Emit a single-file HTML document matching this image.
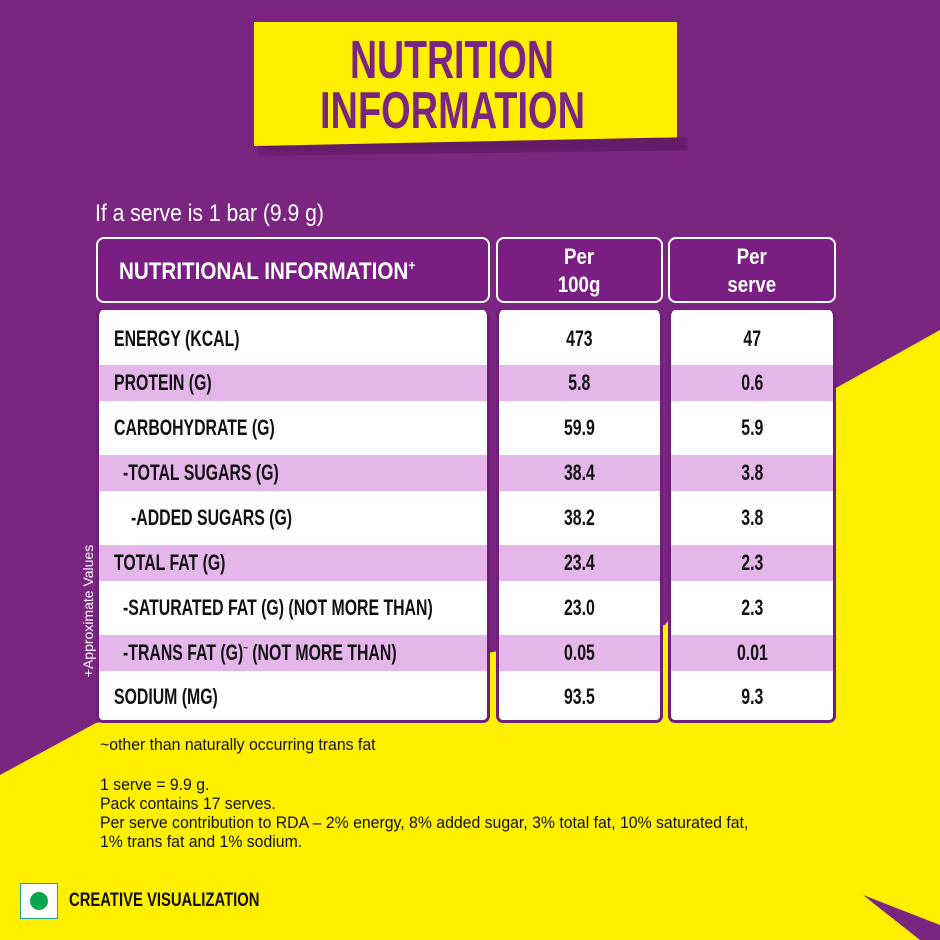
<!DOCTYPE html>
<html><head><meta charset="utf-8">
<style>
*{margin:0;padding:0;box-sizing:border-box}
body{width:940px;height:940px;position:relative;overflow:hidden;background:#7a2580;font-family:"Liberation Sans",sans-serif}
.abs{position:absolute}
.banner{left:254px;top:22px;width:423px;height:124px;background:#fff000;clip-path:polygon(0 0,100% 0,100% 93%,0 100%);}
.shadow{left:258px;top:128px;width:430px;height:28px;background:rgba(60,10,60,.35);filter:blur(5px);clip-path:polygon(0 60%,100% 30%,100% 80%,0 100%)}
.t{font-weight:bold;color:#7a2580;text-align:center;width:940px;left:-18px;white-space:nowrap}
.t span{display:inline-block}
.hdr{background:#7b1e83;border:2px solid #fff;border-radius:8px;color:#fff;font-weight:bold;top:237px;height:66px}
.body{background:#fff;border:3px solid #6f1e7a;border-top:none;border-radius:7px;top:310px;height:413px;overflow:hidden}
.row{position:absolute;left:0;right:0;font-weight:bold;font-size:22px;color:#111;display:flex;align-items:center;white-space:nowrap}
.row span{display:inline-block;transform:scaleX(0.72);transform-origin:left center}
.c{justify-content:center}
.c span{transform-origin:center}
.lav{background:#e5b6ea}
.foot{left:100px;font-size:17px;color:#111;line-height:19px;white-space:nowrap;transform:scaleX(0.93);transform-origin:left top}
</style></head><body>
<svg class="abs" style="left:0;top:0" width="940" height="940">
<polygon points="940,330 836,388 665,625 493,652 96,723 0,775 0,940 940,940" fill="#fff000"/>
<polygon points="863,895 940,925 940,940 920,940" fill="#7a2580"/>
</svg>
<div class="abs shadow"></div>
<div class="abs banner"></div>
<div class="abs t" style="top:33px;font-size:54px;line-height:54px"><span style="transform:scaleX(0.694)">NUTRITION</span></div>
<div class="abs t" style="top:85px;font-size:52px;line-height:52px"><span style="transform:scaleX(0.73)">INFORMATION</span></div>
<div class="abs" style="left:95px;top:200px;color:#fff;font-size:24px;white-space:nowrap;transform:scaleX(0.88);transform-origin:left top">If a serve is 1 bar (9.9 g)</div>

<div class="abs hdr" style="left:96px;width:394px;font-size:24px;padding:18px 0 0 21px;white-space:nowrap"><span style="display:inline-block;transform:scaleX(0.86);transform-origin:left">NUTRITIONAL INFORMATION<sup style="font-size:14px">+</sup></span></div>
<div class="abs hdr" style="left:496px;width:167px;font-size:22px;text-align:center;line-height:28px;padding-top:4px"><span style="display:inline-block;transform:scaleX(0.85)">Per<br>100g</span></div>
<div class="abs hdr" style="left:668px;width:168px;font-size:22px;text-align:center;line-height:28px;padding-top:4px"><span style="display:inline-block;transform:scaleX(0.85)">Per<br>serve</span></div>

<div class="abs body" style="left:96px;width:394px">
<div class="row" style="top:0;height:58px;padding-left:15px"><span>ENERGY (KCAL)</span></div>
<div class="row lav" style="top:55px;height:36px;padding-left:15px"><span>PROTEIN (G)</span></div>
<div class="row" style="top:91px;height:54px;padding-left:15px"><span>CARBOHYDRATE (G)</span></div>
<div class="row lav" style="top:145px;height:36px;padding-left:24px"><span>-TOTAL SUGARS (G)</span></div>
<div class="row" style="top:181px;height:54px;padding-left:32px"><span>-ADDED SUGARS (G)</span></div>
<div class="row lav" style="top:235px;height:36px;padding-left:15px"><span>TOTAL FAT (G)</span></div>
<div class="row" style="top:271px;height:54px;padding-left:24px"><span>-SATURATED FAT (G) (NOT MORE THAN)</span></div>
<div class="row lav" style="top:325px;height:36px;padding-left:24px"><span>-TRANS FAT (G)<sup style="font-size:11px">~</sup> (NOT MORE THAN)</span></div>
<div class="row" style="top:361px;height:52px;padding-left:15px"><span>SODIUM (MG)</span></div>
</div>
<div class="abs body" style="left:496px;width:167px">
<div class="row c" style="top:0;height:58px"><span>473</span></div>
<div class="row c lav" style="top:55px;height:36px"><span>5.8</span></div>
<div class="row c" style="top:91px;height:54px"><span>59.9</span></div>
<div class="row c lav" style="top:145px;height:36px"><span>38.4</span></div>
<div class="row c" style="top:181px;height:54px"><span>38.2</span></div>
<div class="row c lav" style="top:235px;height:36px"><span>23.4</span></div>
<div class="row c" style="top:271px;height:54px"><span>23.0</span></div>
<div class="row c lav" style="top:325px;height:36px"><span>0.05</span></div>
<div class="row c" style="top:361px;height:52px"><span>93.5</span></div>
</div>
<div class="abs body" style="left:668px;width:168px">
<div class="row c" style="top:0;height:58px"><span>47</span></div>
<div class="row c lav" style="top:55px;height:36px"><span>0.6</span></div>
<div class="row c" style="top:91px;height:54px"><span>5.9</span></div>
<div class="row c lav" style="top:145px;height:36px"><span>3.8</span></div>
<div class="row c" style="top:181px;height:54px"><span>3.8</span></div>
<div class="row c lav" style="top:235px;height:36px"><span>2.3</span></div>
<div class="row c" style="top:271px;height:54px"><span>2.3</span></div>
<div class="row c lav" style="top:325px;height:36px"><span>0.01</span></div>
<div class="row c" style="top:361px;height:52px"><span>9.3</span></div>
</div>

<div class="abs" style="left:13px;top:603px;width:150px;text-align:center;color:#fff;font-size:14px;white-space:nowrap;transform:rotate(-90deg)">+Approximate Values</div>

<div class="abs foot" style="top:735px">~other than naturally occurring trans fat</div>
<div class="abs foot" style="top:775px">1 serve = 9.9 g.<br>Pack contains 17 serves.<br>Per serve contribution to RDA – 2% energy, 8% added sugar, 3% total fat, 10% saturated fat,<br>1% trans fat and 1% sodium.</div>

<div class="abs" style="left:20px;top:883px;width:38px;height:36px;background:#fff;border:1px solid #1aa39a"></div>
<div class="abs" style="left:30px;top:892px;width:18px;height:18px;border-radius:50%;background:#0aa550"></div>
<div class="abs" style="left:69px;top:890px;font-size:19px;font-weight:bold;color:#111;white-space:nowrap;transform:scaleX(0.78);transform-origin:left top">CREATIVE VISUALIZATION</div>
</body></html>
